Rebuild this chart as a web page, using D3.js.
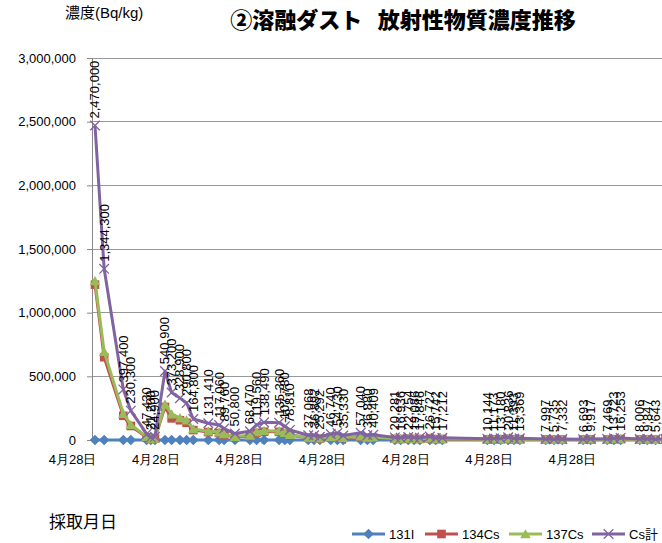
<!DOCTYPE html>
<html><head><meta charset="utf-8">
<script src="https://cdn.jsdelivr.net/npm/d3@7"></script>
<style>
body{margin:0;background:#fff}
svg{display:block;font-family:"Liberation Sans","Noto Sans CJK JP",sans-serif}
</style>
</head><body>
<svg id="c" width="662" height="543"></svg>
<script>
// ---- data ----
const sampleX = [0.0,1.1,3.4,4.3,6.2,6.7,7.2,8.4,9.2,10.2,11.0,11.8,13.6,14.9,15.5,16.8,18.6,19.4,20.3,22.1,22.8,23.4,
  25.6,26.3,27.0,28.3,29.1,29.8,31.9,32.7,33.4,36.0,36.7,37.6,38.3,39.0,40.2,40.9,41.7,
  47.1,47.9,48.7,49.6,50.3,51.0,54.1,55.1,56.1,58.6,59.5,61.5,62.3,63.1,65.4,66.3,67.3,68.5];
const i131 = [0,0,0,0,0,0,0,0,0,0,0,0,0,0,0,0,0,0,0,0,0,0,
  0,0,0,0,0,0,0,0,0,0,0,0,0,0,0,0,0,
  0,0,0,0,0,0,0,0,0,0,0,0,0,0,0,0,0,0];
const cs134 = [1220000,650000,190000,110000,22000,10000,12000,260000,170000,155000,135000,78000,62000,55000,42000,24000,32000,56000,65000,64000,50000,37000,
  17400,17300,11900,22000,25700,16600,26800,17300,19000,9500,7900,10700,8900,8400,12500,7400,8100,
  4700,5200,6200,9800,5300,6300,3700,2700,3400,3100,4600,3500,6400,7600,3700,4600,2600,4200];
const cs137 = [1250000,694300,207400,120300,25430,11200,12900,280900,203200,173900,155800,86800,69410,62060,47760,26800,36470,63560,73490,71360,57780,41810,
  19668,19592,13392,24740,29030,18730,30240,19580,21409,10781,9036,12054,10186,9446,14227,8342,9112,
  5444,5973,6980,11036,6093,7069,4297,3035,3932,3593,5317,3969,7323,8653,4306,5247,3043,4712];
const csTotal = [2470000,1344300,397400,230300,47430,21200,24900,540900,373200,328900,290800,164800,131410,117060,89760,50800,68470,119560,138490,135360,107780,78810,
  37068,36892,25292,46740,54730,35330,57040,36880,40409,20281,16936,22754,19086,17846,26727,15742,17212,
  10144,11173,13180,20836,11393,13369,7997,5735,7332,6693,9917,7469,13723,16253,8006,9847,5643,8912];
const yTicks = [0,500000,1000000,1500000,2000000,2500000,3000000];
const xTicks = [0,10,20,30,40,50,60];
const xTickLabels = ["4月28日","4月28日","4月28日","4月28日","4月28日","4月28日","4月28日"];
const seriesNames = ["131I","134Cs","137Cs","Cs計"];
const seriesColors = ["#4F81BD","#C0504D","#9BBB59","#8064A2"];
const title = "②溶融ダスト\u2002\u2009放射性物質濃度推移";
const yTitle = "濃度(Bq/kg)";
const xTitle = "採取月日";

// ---- chart ----
const svg = d3.select("#c");
const x = d3.scaleLinear().domain([-0.36, 68.07]).range([92, 662]);
const y = d3.scaleLinear().domain([0, 3000000]).range([440, 58]);
const fmt = d3.format(",");
const xMax = x.domain()[1];

// gridlines
svg.append("g").selectAll("line").data(yTicks.filter(d => d > 0)).join("line")
  .attr("x1", 92).attr("x2", 662).attr("y1", d => y(d)).attr("y2", d => y(d))
  .attr("stroke", "#999").attr("stroke-width", 1).attr("shape-rendering","crispEdges");

// y axis
const ya = svg.append("g").attr("transform", "translate(92,0)")
  .call(d3.axisLeft(y).tickValues(yTicks).tickFormat(fmt).tickSize(5).tickPadding(11));
ya.select(".domain").attr("stroke", "#888");
ya.selectAll(".tick line").attr("stroke", "#888");
ya.selectAll("text").attr("font-size", 13).attr("fill", "#000");

// x axis
const xa = svg.append("g").attr("transform", "translate(0,440)")
  .call(d3.axisBottom(x).tickValues(xTicks).tickFormat((d, i) => xTickLabels[i]).tickSize(4).tickSizeOuter(0));
xa.select(".domain").attr("stroke", "#888");
xa.selectAll(".tick line").attr("stroke", "#888");
xa.selectAll("text").attr("font-size", 13).attr("fill", "#000")
  .attr("text-anchor", "end").attr("dx", "1").attr("y", 15).attr("dy", "0.71em");

const seriesData = [i131, cs134, cs137, csTotal];
const idx = d3.range(sampleX.length);

function marker(sel, k, s) {
  const c = seriesColors[k];
  if (k === 0) sel.append("path").attr("d", `M0,${-s - 0.5}L${s + 0.5},0L0,${s + 0.5}L${-s - 0.5},0Z`).attr("fill", c);
  else if (k === 1) sel.append("rect").attr("x", -s + 0.5).attr("y", -s + 0.5).attr("width", 2 * s - 1).attr("height", 2 * s - 1).attr("fill", c);
  else if (k === 2) sel.append("path").attr("d", `M0,${-s}L${s + 0.5},${s - 0.5}L${-s - 0.5},${s - 0.5}Z`).attr("fill", c);
  else sel.append("path").attr("d", `M${-s},${-s}L${s},${s}M${-s},${s}L${s},${-s}`).attr("stroke", c).attr("stroke-width", 1.3).attr("fill", "none");
}

const plot = svg.append("g");
seriesData.forEach((vals, k) => {
  const line = d3.line().x(i => x(sampleX[i])).y(i => y(vals[i]));
  plot.append("path").datum(idx).attr("d", line).attr("fill", "none")
    .attr("stroke", seriesColors[k]).attr("stroke-width", 3).attr("stroke-linejoin", "round");
  plot.append("g").selectAll("g").data(idx).join("g")
    .attr("transform", i => `translate(${x(sampleX[i])},${y(vals[i])})`)
    .each(function () { marker(d3.select(this), k, 4.8); });
});

// data labels for Cs total (only those inside the visible plot width)
svg.append("g").selectAll("text").data(idx.filter(i => sampleX[i] <= xMax)).join("text")
  .attr("transform", i => `translate(${x(sampleX[i]) + 4.5},${y(csTotal[i]) - 7}) rotate(-90)`)
  .attr("font-size", 13).attr("fill", "#000")
  .text(i => fmt(csTotal[i]));

// titles
svg.append("text").attr("x", 403).attr("y", 28).attr("text-anchor", "middle")
  .attr("font-family", "Noto Sans CJK JP").attr("font-weight", 900).attr("font-size", 22).text(title);
svg.append("text").attr("x", 65).attr("y", 18).attr("font-size", 15).text(yTitle);
svg.append("text").attr("x", 49).attr("y", 528).attr("font-family", "Noto Sans CJK JP").attr("font-size", 17).text(xTitle);

// legend
const lx = [352, 425, 509, 592];
const lg = svg.append("g");
seriesNames.forEach((n, k) => {
  const g = lg.append("g").attr("transform", `translate(${lx[k]},534)`);
  g.append("line").attr("x1", 0).attr("x2", 33).attr("stroke", seriesColors[k]).attr("stroke-width", 3);
  const m = g.append("g").attr("transform", "translate(16.5,0)");
  marker(m, k, 4.8);
  g.append("text").attr("x", 37).attr("y", 0).attr("dy", "0.36em").attr("font-size", 13).text(n);
});
</script>
</body></html>
